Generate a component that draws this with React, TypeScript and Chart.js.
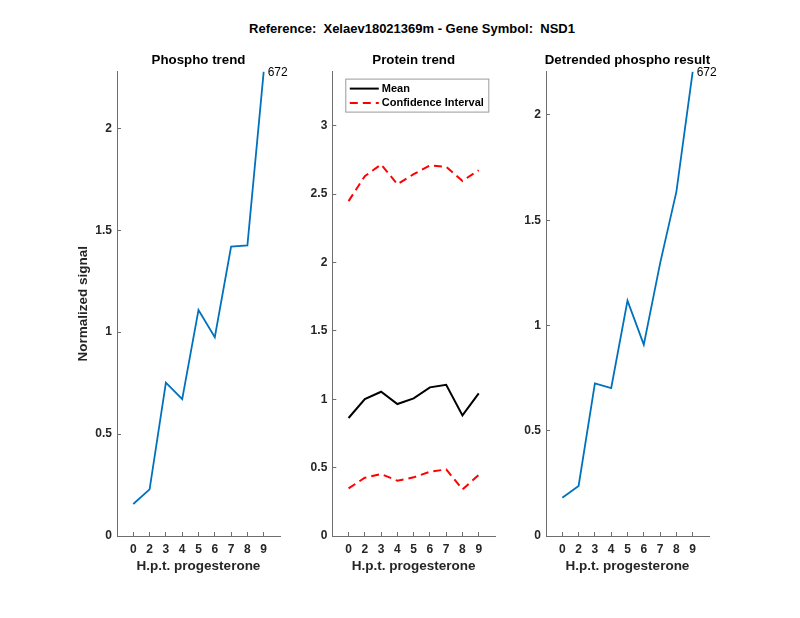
import React, { useEffect, useRef } from "react";
import { Chart, registerables } from "chart.js";
Chart.register(...registerables);

const suptitle = "Reference:  Xelaev18021369m - Gene Symbol:  NSD1";
const xLabels = ["0", "2", "3", "4", "5", "6", "7", "8", "9"];
const phospho = [0.157, 0.229, 0.752, 0.671, 1.109, 0.975, 1.42, 1.426, 2.278];
const proteinMean = [0.863, 1.001, 1.055, 0.965, 1.006, 1.087, 1.106, 0.882, 1.043];
const ciUpper = [2.449, 2.632, 2.717, 2.573, 2.646, 2.71, 2.7, 2.597, 2.675];
const ciLower = [0.348, 0.426, 0.453, 0.404, 0.429, 0.47, 0.487, 0.341, 0.446];
const detrended = [0.182, 0.2375, 0.725, 0.703, 1.118, 0.909, 1.295, 1.636, 2.206];
const yTicksPhospho = [0, 0.5, 1, 1.5, 2];
const yTicksProtein = [0, 0.5, 1, 1.5, 2, 2.5, 3];
const yTicksDetrended = [0, 0.5, 1, 1.5, 2];
const peptideLabel = "672";
const legendLabels = ["Mean", "Confidence Interval"];

const FONT = "'Liberation Sans', Arial, Helvetica, sans-serif";
const TEXT = "#262626";
const AXIS = "#6e6e6e";
const BLUE = "#0072BD";

const toXY = (vals: number[]) => vals.map((v, i) => ({ x: i + 1, y: v }));

const endLabelPlugin = {
  id: "endLabel",
  afterDatasetsDraw(chart: any) {
    const lbl = chart.options.plugins.endLabel;
    if (!lbl || !lbl.text) return;
    const meta = chart.getDatasetMeta(0);
    const pt = meta.data[meta.data.length - 1];
    const ctx = chart.ctx;
    ctx.save();
    ctx.font = `12px ${FONT}`;
    ctx.fillStyle = "#000";
    ctx.textBaseline = "middle";
    ctx.textAlign = "left";
    ctx.fillText(lbl.text, pt.x + 4, pt.y + 1);
    ctx.restore();
  },
};

const axesTitlePlugin = {
  id: "axesTitle",
  afterDraw(chart: any) {
    const opt = chart.options.plugins.axesTitle;
    if (!opt || !opt.text) return;
    const a = chart.chartArea;
    const ctx = chart.ctx;
    ctx.save();
    ctx.font = `bold 13.3px ${FONT}`;
    ctx.fillStyle = "#000";
    ctx.textBaseline = "middle";
    ctx.textAlign = "center";
    ctx.fillText(opt.text, (a.left + a.right) / 2, a.top - 11);
    ctx.restore();
  },
};

const boxLegendPlugin = {
  id: "boxLegend",
  afterDraw(chart: any) {
    const opt = chart.options.plugins.boxLegend;
    if (!opt || !opt.show) return;
    const ctx = chart.ctx;
    const a = chart.chartArea;
    const x0 = a.left + 13.5;
    const y0 = a.top + 7.5;
    const w = 143;
    const h = 33;
    ctx.save();
    ctx.fillStyle = "#fff";
    ctx.fillRect(x0, y0, w, h);
    ctx.strokeStyle = "#9a9a9a";
    ctx.lineWidth = 1;
    ctx.strokeRect(x0, y0, w, h);
    ctx.font = `bold 11px ${FONT}`;
    ctx.textBaseline = "middle";
    ctx.textAlign = "left";
    const rows = [y0 + 9.5, y0 + 24];
    chart.data.datasets.slice(0, 2).forEach((ds: any, i: number) => {
      ctx.beginPath();
      ctx.strokeStyle = ds.borderColor;
      ctx.lineWidth = 2;
      ctx.setLineDash(ds.borderDash || []);
      ctx.moveTo(x0 + 4, rows[i]);
      ctx.lineTo(x0 + 33, rows[i]);
      ctx.stroke();
      ctx.setLineDash([]);
      ctx.fillStyle = "#000";
      ctx.fillText(opt.labels[i], x0 + 36, rows[i]);
    });
    ctx.restore();
  },
};

function makeConfig(
  datasets: any[],
  yMax: number,
  yTicks: number[],
  title: string,
  yTitle: string,
  yWidth: number,
  padRight: number,
  endText: string,
  legend: boolean
): any {
  return {
    type: "line",
    data: { datasets },
    plugins: [endLabelPlugin, boxLegendPlugin, axesTitlePlugin],
    options: {
      animation: false,
      responsive: false,
      maintainAspectRatio: false,
      devicePixelRatio: 1,
      layout: { padding: { left: 0, right: padRight, top: 31.6, bottom: 0 } },
      elements: { point: { radius: 0 } },
      plugins: {
        legend: { display: false },
        tooltip: { enabled: false },
        title: { display: false },
        axesTitle: { text: title },
        endLabel: { text: endText },
        boxLegend: { show: legend, labels: legendLabels },
      },
      scales: {
        x: {
          type: "linear",
          min: 0,
          max: 10,
          afterBuildTicks: (s: any) => {
            s.ticks = xLabels.map((_, i) => ({ value: i + 1 }));
          },
          afterFit: (s: any) => {
            s.height = 64;
          },
          ticks: {
            autoSkip: false,
            maxRotation: 0,
            padding: 10,
            color: TEXT,
            font: { family: FONT, size: 12, weight: "bold" },
            callback: (v: number) => xLabels[Math.round(v) - 1] ?? "",
          },
          grid: {
            drawOnChartArea: false,
            drawTicks: true,
            tickLength: -4,
            tickColor: AXIS,
            color: AXIS,
          },
          border: { display: true, color: AXIS, width: 1 },
          title: {
            display: true,
            text: "H.p.t. progesterone",
            color: TEXT,
            font: { family: FONT, size: 13.5, weight: "bold", lineHeight: 1.2 },
            padding: { top: 0, bottom: 26 },
          },
        },
        y: {
          type: "linear",
          min: 0,
          max: yMax,
          afterBuildTicks: (s: any) => {
            s.ticks = yTicks.map((v) => ({ value: v }));
          },
          afterFit: (s: any) => {
            s.width = yWidth;
          },
          ticks: {
            autoSkip: false,
            padding: 9,
            color: TEXT,
            font: { family: FONT, size: 12, weight: "bold" },
            callback: (v: number) => String(v),
          },
          grid: {
            drawOnChartArea: false,
            drawTicks: true,
            tickLength: -4,
            tickColor: AXIS,
            color: AXIS,
          },
          border: { display: true, color: AXIS, width: 1 },
          title: {
            display: yTitle !== "",
            text: yTitle,
            color: TEXT,
            font: { family: FONT, size: 13.5, weight: "bold", lineHeight: 1.2 },
            padding: { top: 35, bottom: 0 },
          },
        },
      },
    },
  };
}

function Panel({ left, width, config }: { left: number; width: number; config: any }) {
  const ref = useRef<HTMLCanvasElement | null>(null);
  useEffect(() => {
    if (!ref.current) return;
    const chart = new Chart(ref.current, config);
    return () => chart.destroy();
  }, []);
  return (
    <canvas
      ref={ref}
      width={width}
      height={560}
      style={{ position: "absolute", left, top: 40, width, height: 560 }}
    />
  );
}

export default function App() {
  const lineBase = { fill: false, tension: 0, pointRadius: 0 };
  const cfg1 = makeConfig(
    [{ ...lineBase, data: toXY(phospho), borderColor: BLUE, borderWidth: 1.8 }],
    Math.max(...phospho),
    yTicksPhospho,
    "Phospho trend",
    "Normalized signal",
    77,
    20,
    peptideLabel,
    false
  );
  const cfg2 = makeConfig(
    [
      { ...lineBase, data: toXY(proteinMean), borderColor: "#000", borderWidth: 2 },
      { ...lineBase, data: toXY(ciUpper), borderColor: "#ff0000", borderWidth: 2, borderDash: [8, 5] },
      { ...lineBase, data: toXY(ciLower), borderColor: "#ff0000", borderWidth: 2, borderDash: [8, 5] },
    ],
    Math.max(...ciUpper) * 1.25,
    yTicksProtein,
    "Protein trend",
    "",
    32.3,
    25,
    "",
    true
  );
  const cfg3 = makeConfig(
    [{ ...lineBase, data: toXY(detrended), borderColor: BLUE, borderWidth: 1.8 }],
    Math.max(...detrended),
    yTicksDetrended,
    "Detrended phospho result",
    "",
    26,
    51,
    peptideLabel,
    false
  );
  return (
    <div style={{ position: "absolute", left: 0, top: 0, width: 800, height: 618, background: "#fff", overflow: "hidden" }}>
      <div
        style={{
          position: "absolute",
          left: 0,
          width: 824,
          top: 21,
          textAlign: "center",
          font: `bold 13px ${FONT}`,
          lineHeight: "16px",
          color: "#000",
          whiteSpace: "pre",
        }}
      >
        {suptitle}
      </div>
      <Panel left={40} width={260} config={cfg1} />
      <Panel left={300} width={220} config={cfg2} />
      <Panel left={520} width={240} config={cfg3} />
    </div>
  );
}
